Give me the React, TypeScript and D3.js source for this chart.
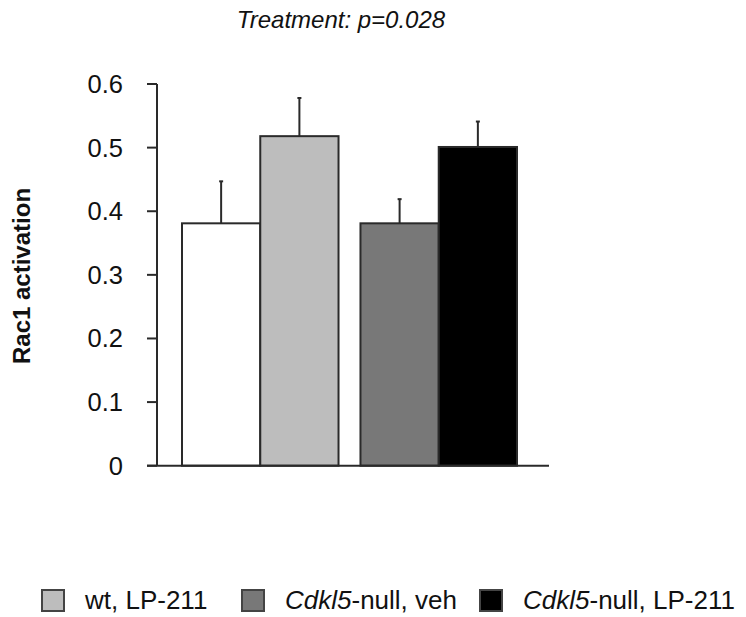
import React from "react";
import * as d3 from "d3";

const groups = ["wt", "Cdkl5-null"];
const treatments = ["veh", "LP-211"];
const meanValues = [0.381, 0.518, 0.381, 0.501];
const semValues = [0.066, 0.06, 0.038, 0.04];
const barColors = ["#ffffff", "#bdbdbd", "#787878", "#000000"];
const yTicks = [0, 0.1, 0.2, 0.3, 0.4, 0.5, 0.6];
const legendLabels = [
  { ital: "", post: "wt, veh", color: "#ffffff" },
  { ital: "", post: "wt, LP-211", color: "#bdbdbd" },
  { ital: "Cdkl5", post: "-null, veh", color: "#787878" },
  { ital: "Cdkl5", post: "-null, LP-211", color: "#000000" },
];
const legendX = [-130, 42, 242, 480];
const titleText = "Treatment: p=0.028";
const yLabel = "Rac1 activation";

const W = 746;
const H = 617;
const FONT = "Liberation Sans, Arial, Helvetica, sans-serif";

export default function App() {
  const y = d3.scaleLinear().domain([0, 0.6]).range([465.7, 84]);
  const x0 = d3.scaleBand().domain(groups).range([182, 517]).paddingInner(0.123).paddingOuter(0);
  const x1 = d3.scaleBand().domain(treatments).range([0, x0.bandwidth()]).padding(0);
  const bars = meanValues.map((v, i) => {
    const g = groups[Math.floor(i / 2)];
    const t = treatments[i % 2];
    return { v, e: semValues[i], x: (x0(g) as number) + (x1(t) as number), w: x1.bandwidth(), color: barColors[i] };
  });
  const axisX = 157;
  const stroke = "#2a2a2a";
  return (
    <div style={{ position: "absolute", left: 0, top: 0 }}>
      <svg width={W} height={H} style={{ display: "block", background: "#fff" }}>
        <text x={341} y={28} textAnchor="middle" fontFamily={FONT} fontStyle="italic" fontSize={24} fill="#111">
          {titleText}
        </text>
        <text
          transform={`translate(30, ${276}) rotate(-90)`}
          textAnchor="middle"
          fontFamily={FONT}
          fontWeight="bold"
          fontSize={24}
          fill="#111"
        >
          {yLabel}
        </text>
        {bars.map((b, i) => (
          <g key={i}>
            <line x1={b.x + b.w / 2} x2={b.x + b.w / 2} y1={y(b.v)} y2={y(b.v + b.e)} stroke={stroke} strokeWidth={2} />
            <line x1={b.x + b.w / 2 - 2} x2={b.x + b.w / 2 + 2} y1={y(b.v + b.e)} y2={y(b.v + b.e)} stroke={stroke} strokeWidth={2} />
          </g>
        ))}
        {bars.map((b, i) => (
          <rect key={i} x={b.x} y={y(b.v)} width={b.w} height={y(0) - y(b.v)} fill={b.color} stroke={stroke} strokeWidth={2} />
        ))}
        <line x1={axisX} x2={axisX} y1={y(0.6)} y2={y(0)} stroke={stroke} strokeWidth={2} />
        <line x1={147} x2={549} y1={y(0)} y2={y(0)} stroke={stroke} strokeWidth={2} />
        {yTicks.map((t) => (
          <g key={t}>
            <line x1={147} x2={axisX} y1={y(t)} y2={y(t)} stroke={stroke} strokeWidth={2} />
            <text x={123} y={y(t) + 9} textAnchor="end" fontFamily={FONT} fontSize={25.5} fill="#111">
              {d3.format("")(t)}
            </text>
          </g>
        ))}
        {legendLabels.map((l, i) => (
          <g key={i}>
            <rect x={legendX[i]} y={590} width={22} height={21} fill={l.color} stroke="#444" strokeWidth={2} />
            <text x={legendX[i] + 43} y={609} fontFamily={FONT} fontSize={26} fill="#111">
              {l.ital ? <tspan fontStyle="italic">{l.ital}</tspan> : null}
              <tspan>{l.post}</tspan>
            </text>
          </g>
        ))}
      </svg>
    </div>
  );
}
